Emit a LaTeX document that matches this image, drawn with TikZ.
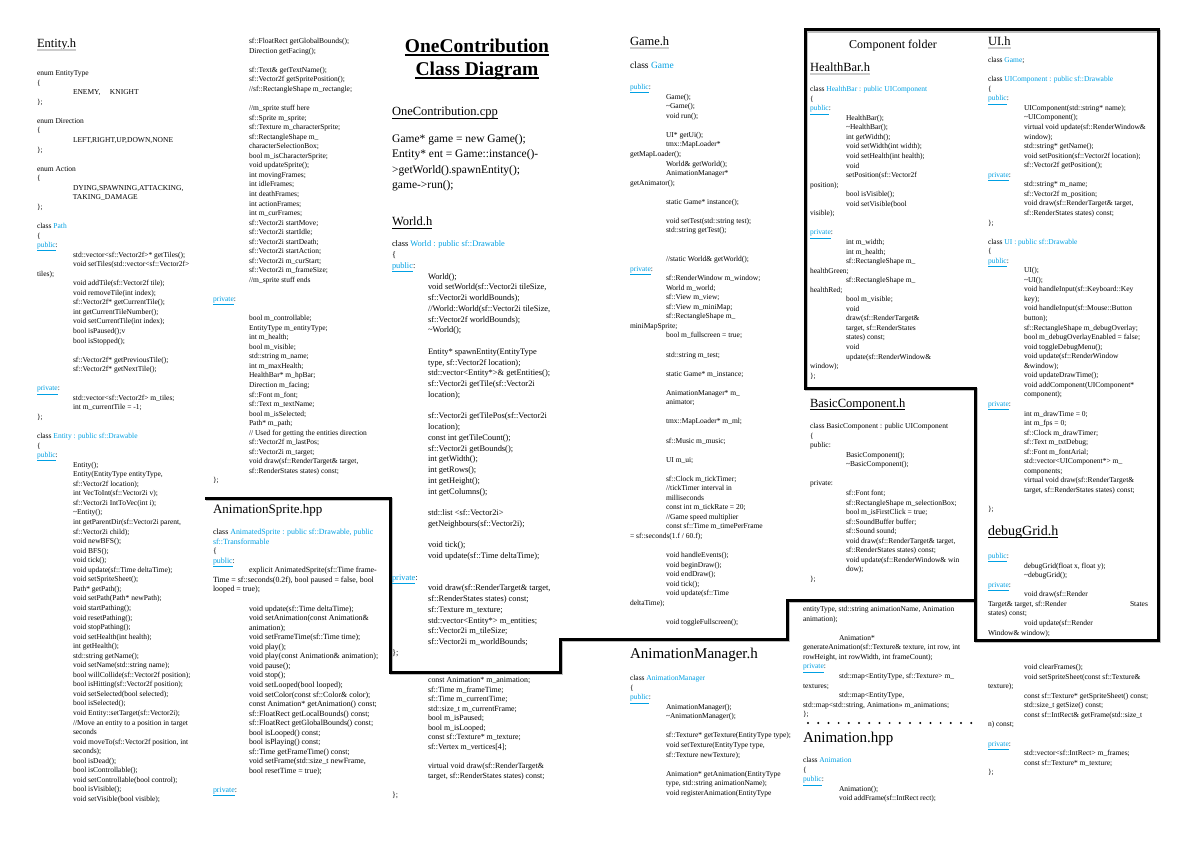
\documentclass[tikz,border=0pt]{standalone}
\usepackage{fontspec}
\setmainfont{Liberation Serif}
\usepackage{xcolor}
\definecolor{cppblue}{RGB}{0,160,227}
\newcommand\tb{\hspace*{36pt}}
\newcommand\cb[1]{\textcolor{cppblue}{#1}}
\newcommand\pub{{\color{cppblue}\underline{public}}:}
\newcommand\pri{{\color{cppblue}\underline{private}}:}
\newcommand\tldd{\textasciitilde}
\begin{document}
\begin{tikzpicture}[x=1pt,y=-1pt,
 code/.style={anchor=north west, inner sep=0pt, outer sep=0pt, align=left, font=\fontsize{7.5}{9.55}\selectfont},
 codeB/.style={code, font=\fontsize{7.9}{9.55}\selectfont},
 codeW/.style={code, font=\fontsize{8.4}{10.75}\selectfont},
 head/.style={anchor=base west, inner sep=0pt, outer sep=0pt, text depth=0pt, font=\fontsize{12.5}{14}\selectfont},
 headL/.style={head, font=\fontsize{15}{17}\selectfont},
 grayul/.style={gray!40, line width=2pt},
 blackul/.style={black, line width=0.7pt},
 frame/.style={black, line width=3pt, line join=miter},
 shade/.style={gray!50, line width=3pt, line join=miter}
]
\useasboundingbox (0,0) rectangle (1191,842);
\fill[white] (0,0) rectangle (1191,842);

% ---------- frames ----------
\begin{scope}[shift={(1.2,1.2)}]
\draw[shade] (805,30) -- (1158,30) -- (1158,640) -- (975,640) -- (975,388) -- (805,388) -- cycle;
\draw[shade] (205,498) -- (390,498) -- (390,672) -- (560,672) -- (560,639) -- (787,639) -- (787,600) -- (975,600);
\end{scope}
\draw[frame] (805,30) -- (1158,30) -- (1158,640) -- (975,640) -- (975,388) -- (805,388) -- cycle;
\draw[frame] (205,498) -- (390,498) -- (390,672) -- (560,672) -- (560,639) -- (787,639) -- (787,600) -- (975,600);

% ---------- column 1 ----------
\node[head] (hEntity) at (37,48) {Entity.h};
\draw[grayul] ([yshift=-2pt]hEntity.base west) -- ([yshift=-2pt]hEntity.base east);
\node[code] (c1) at (37,69) {\strut enum EntityType\\
\{\\
\tb ENEMY,\quad\ KNIGHT\\
\};\\
~\\
enum Direction\\
\{\\
\tb LEFT,RIGHT,UP,DOWN,NONE\\
\};\\
~\\
enum Action\\
\{\\
\tb DYING,SPAWNING,ATTACKING,\\
\tb TAKING\_DAMAGE\\
\};\\
~\\
class \cb{Path}\\
\{\\
\pub\\
\tb std::vector<sf::Vector2f>* getTiles();\\
\tb void setTiles(std::vector<sf::Vector2f>\\
tiles);\\
\tb void addTile(sf::Vector2f tile);\\
\tb void removeTile(int index);\\
\tb sf::Vector2f* getCurrentTile();\\
\tb int getCurrentTileNumber();\\
\tb void setCurrentTile(int index);\\
\tb bool isPaused();v\\
\tb bool isStopped();\\
~\\
\tb sf::Vector2f* getPreviousTile();\\
\tb sf::Vector2f* getNextTile();\\
~\\
\pri\\
\tb std::vector<sf::Vector2f> m\_tiles;\\
\tb int m\_currentTile = -1;\\
\};\\
~\\
class \cb{Entity : public sf::Drawable}\\
\{\\
\pub\\
\tb Entity();\\
\tb Entity(EntityType entityType,\\
\tb sf::Vector2f location);\\
\tb int VecToInt(sf::Vector2i v);\\
\tb sf::Vector2i IntToVec(int i);\\
\tb \tldd Entity();\\
\tb int getParentDir(sf::Vector2i parent,\\
\tb sf::Vector2i child);\\
\tb void newBFS();\\
\tb void BFS();\\
\tb void tick();\\
\tb void update(sf::Time deltaTime);\\
\tb void setSpriteSheet();\\
\tb Path* getPath();\\
\tb void setPath(Path* newPath);\\
\tb void startPathing();\\
\tb void resetPathing();\\
\tb void stopPathing();\\
\tb void setHealth(int health);\\
\tb int getHealth();\\
\tb std::string getName();\\
\tb void setName(std::string name);\\
\tb bool willCollide(sf::Vector2f position);\\
\tb bool isHitting(sf::Vector2f position);\\
\tb void setSelected(bool selected);\\
\tb bool isSelected();\\
\tb void Entity::setTarget(sf::Vector2i);\\
\tb //Move an entity to a position in target\\
\tb seconds\\
\tb void moveTo(sf::Vector2f position, int\\
\tb seconds);\\
\tb bool isDead();\\
\tb bool isControllable();\\
\tb void setControllable(bool control);\\
\tb bool isVisible();\\
\tb void setVisible(bool visible);};

% ---------- column 2 ----------
\node[code] (c2a) at (213,37) {\strut\tb sf::FloatRect getGlobalBounds();\\
\tb Direction getFacing();\\
~\\
\tb sf::Text\& getTextName();\\
\tb sf::Vector2f getSpritePosition();\\
\tb //sf::RectangleShape m\_rectangle;\\
~\\
\tb //m\_sprite stuff here\\
\tb sf::Sprite m\_sprite;\\
\tb sf::Texture m\_characterSprite;\\
\tb sf::RectangleShape m\_\\
\tb characterSelectionBox;\\
\tb bool m\_isCharacterSprite;\\
\tb void updateSprite();\\
\tb int movingFrames;\\
\tb int idleFrames;\\
\tb int deathFrames;\\
\tb int actionFrames;\\
\tb int m\_curFrames;\\
\tb sf::Vector2i startMove;\\
\tb sf::Vector2i startIdle;\\
\tb sf::Vector2i startDeath;\\
\tb sf::Vector2i startAction;\\
\tb sf::Vector2i m\_curStart;\\
\tb sf::Vector2i m\_frameSize;\\
\tb //m\_sprite stuff ends\\
~\\
\pri\\
~\\
\tb bool m\_controllable;\\
\tb EntityType m\_entityType;\\
\tb int m\_health;\\
\tb bool m\_visible;\\
\tb std::string m\_name;\\
\tb int m\_maxHealth;\\
\tb HealthBar* m\_hpBar;\\
\tb Direction m\_facing;\\
\tb sf::Font m\_font;\\
\tb sf::Text m\_textName;\\
\tb bool m\_isSelected;\\
\tb Path* m\_path;\\
\tb // Used for getting the entities direction\\
\tb sf::Vector2f m\_lastPos;\\
\tb sf::Vector2i m\_target;\\
\tb void draw(sf::RenderTarget\& target,\\
\tb sf::RenderStates states) const;\\
\};};

\node[head, font=\fontsize{13}{15}\selectfont] (hASprite) at (213,513) {AnimationSprite.hpp};
\node[codeB] (c2b) at (213,528) {\strut class \cb{AnimatedSprite : public sf::Drawable, public}\\
\cb{sf::Transformable}\\
\{\\
\pub\\
\tb explicit AnimatedSprite(sf::Time frame-\\
Time = sf::seconds(0.2f), bool paused = false, bool\\
looped = true);\\
~\\
\tb void update(sf::Time deltaTime);\\
\tb void setAnimation(const Animation\&\\
\tb animation);\\
\tb void setFrameTime(sf::Time time);\\
\tb void play();\\
\tb void play(const Animation\& animation);\\
\tb void pause();\\
\tb void stop();\\
\tb void setLooped(bool looped);\\
\tb void setColor(const sf::Color\& color);\\
\tb const Animation* getAnimation() const;\\
\tb sf::FloatRect getLocalBounds() const;\\
\tb sf::FloatRect getGlobalBounds() const;\\
\tb bool isLooped() const;\\
\tb bool isPlaying() const;\\
\tb sf::Time getFrameTime() const;\\
\tb void setFrame(std::size\_t newFrame,\\
\tb bool resetTime = true);\\
~\\
\pri};

% ---------- column 3 ----------
\node[anchor=base, inner sep=0pt, text depth=0pt, font=\fontsize{19.5}{23}\selectfont\bfseries] (t1) at (477,52.5) {OneContribution };
\node[anchor=base, inner sep=0pt, text depth=0pt, font=\fontsize{19.5}{23}\selectfont\bfseries] (t2) at (477,75.5) {Class Diagram};
\draw[line width=1.3pt] ([yshift=-2.6pt]t1.base west) -- ([yshift=-2.6pt]t1.base east);
\draw[line width=1.3pt] ([yshift=-2.6pt]t2.base west) -- ([yshift=-2.6pt]t2.base east);

\node[head] (hCpp) at (392,116) {OneContribution.cpp};
\draw[blackul] ([yshift=-2pt]hCpp.base west) -- ([yshift=-2pt]hCpp.base east);
\node[anchor=north west, inner sep=0pt, align=left, font=\fontsize{11.5}{15.5}\selectfont] (cpp) at (392,131) {\strut Game* game = new Game();\\
Entity* ent = Game::instance()-\\
>getWorld().spawnEntity();\\
game->run();};

\node[head] (hWorld) at (392,226) {World.h};
\draw[blackul] ([yshift=-2pt]hWorld.base west) -- ([yshift=-2pt]hWorld.base east);
\node[codeW] (c3w) at (392,239.4) {\strut class \cb{World : public sf::Drawable}\\
\{\\
\pub\\
\tb World();\\
\tb void setWorld(sf::Vector2i tileSize,\\
\tb sf::Vector2i worldBounds);\\
\tb //World::World(sf::Vector2i tileSize,\\
\tb sf::Vector2f worldBounds);\\
\tb \tldd World();\\
~\\
\tb Entity* spawnEntity(EntityType\\
\tb type, sf::Vector2f location);\\
\tb std::vector<Entity*>\& getEntities();\\
\tb sf::Vector2i getTile(sf::Vector2i\\
\tb location);\\
~\\
\tb sf::Vector2i getTilePos(sf::Vector2i\\
\tb location);\\
\tb const int getTileCount();\\
\tb sf::Vector2i getBounds();\\
\tb int getWidth();\\
\tb int getRows();\\
\tb int getHeight();\\
\tb int getColumns();\\
~\\
\tb std::list <sf::Vector2i>\\
\tb getNeighbours(sf::Vector2i);\\
~\\
\tb void tick();\\
\tb void update(sf::Time deltaTime);\\
~\\
\pri\\
\tb void draw(sf::RenderTarget\& target,\\
\tb sf::RenderStates states) const;\\
\tb sf::Texture m\_texture;\\
\tb std::vector<Entity*> m\_entities;\\
\tb sf::Vector2i m\_tileSize;\\
\tb sf::Vector2i m\_worldBounds;\\
\};};

\node[codeB] (c3b) at (392,676) {\strut\tb const Animation* m\_animation;\\
\tb sf::Time m\_frameTime;\\
\tb sf::Time m\_currentTime;\\
\tb std::size\_t m\_currentFrame;\\
\tb bool m\_isPaused;\\
\tb bool m\_isLooped;\\
\tb const sf::Texture* m\_texture;\\
\tb sf::Vertex m\_vertices[4];\\
~\\
\tb virtual void draw(sf::RenderTarget\&\\
\tb target, sf::RenderStates states) const;\\
~\\
\};};

% ---------- column 4 ----------
\node[head] (hGame) at (630,46) {Game.h};
\draw[grayul] ([yshift=-2pt]hGame.base west) -- ([yshift=-2pt]hGame.base east);
\node[anchor=base west, inner sep=0pt, font=\fontsize{9.5}{11}\selectfont] (clsGame) at (630,68.5) {class \cb{Game}};
\node[code] (c4a) at (630,83) {\strut\pub\\
\tb Game();\\
\tb \tldd Game();\\
\tb void run();\\
~\\
\tb UI* getUi();\\
\tb tmx::MapLoader*\\
getMapLoader();\\
\tb World\& getWorld();\\
\tb AnimationManager*\\
getAnimator();\\
~\\
\tb static Game* instance();\\
~\\
\tb void setTest(std::string test);\\
\tb std::string getTest();\\
~\\
~\\
\tb //static World\& getWorld();\\
\pri\\
\tb sf::RenderWindow m\_window;\\
\tb World m\_world;\\
\tb sf::View m\_view;\\
\tb sf::View m\_miniMap;\\
\tb sf::RectangleShape m\_\\
miniMapSprite;\\
\tb bool m\_fullscreen = true;\\
~\\
\tb std::string m\_test;\\
~\\
\tb static Game* m\_instance;\\
~\\
\tb AnimationManager* m\_\\
\tb animator;\\
~\\
\tb tmx::MapLoader* m\_ml;\\
~\\
\tb sf::Music m\_music;\\
~\\
\tb UI m\_ui;\\
~\\
\tb sf::Clock m\_tickTimer;\\
\tb //tickTimer interval in\\
\tb milliseconds\\
\tb const int m\_tickRate = 20;\\
\tb //Game speed multiplier\\
\tb const sf::Time m\_timePerFrame\\
= sf::seconds(1.f / 60.f);\\
~\\
\tb void handleEvents();\\
\tb void beginDraw();\\
\tb void endDraw();\\
\tb void tick();\\
\tb void update(sf::Time\\
deltaTime);\\
~\\
\tb void toggleFullscreen();};

\node[headL] (hAMan) at (630,658) {AnimationManager.h};
\node[code] (c4b) at (630,674) {\strut class \cb{AnimationManager}\\
\{\\
\pub\\
\tb AnimationManager();\\
\tb \tldd AnimationManager();\\
~\\
\tb sf::Texture* getTexture(EntityType type);\\
\tb void setTexture(EntityType type,\\
\tb sf::Texture newTexture);\\
~\\
\tb Animation* getAnimation(EntityType\\
\tb type, std::string animationName);\\
\tb void registerAnimation(EntityType};

% ---------- column 5 ----------
\node[anchor=base, inner sep=0pt, font=\fontsize{12}{14}\selectfont] (hComp) at (893,49) {Component folder};
\node[head] (hHealth) at (810,72) {HealthBar.h};
\draw[grayul] ([yshift=-2pt]hHealth.base west) -- ([yshift=-2pt]hHealth.base east);
\node[code] (c5a) at (810,85) {\strut class \cb{HealthBar : public UIComponent}\\
\{\\
\pub\\
\tb HealthBar();\\
\tb \tldd HealthBar();\\
\tb int getWidth();\\
\tb void setWidth(int width);\\
\tb void setHealth(int health);\\
\tb void\\
\tb setPosition(sf::Vector2f\\
position);\\
\tb bool isVisible();\\
\tb void setVisible(bool\\
visible);\\
~\\
\pri\\
\tb int m\_width;\\
\tb int m\_health;\\
\tb sf::RectangleShape m\_\\
healthGreen;\\
\tb sf::RectangleShape m\_\\
healthRed;\\
\tb bool m\_visible;\\
\tb void\\
\tb draw(sf::RenderTarget\&\\
\tb target, sf::RenderStates\\
\tb states) const;\\
\tb void\\
\tb update(sf::RenderWindow\&\\
window);\\
\};};

\node[head] (hBasic) at (810,407) {BasicComponent.h};
\draw[blackul] ([yshift=-2pt]hBasic.base west) -- ([yshift=-2pt]hBasic.base east);
\node[code] (c5d) at (810,422) {\strut class BasicComponent : public UIComponent\\
\{\\
public:\\
\tb BasicComponent();\\
\tb \tldd BasicComponent();\\
~\\
private:\\
\tb sf::Font font;\\
\tb sf::RectangleShape m\_selectionBox;\\
\tb bool m\_isFirstClick = true;\\
\tb sf::SoundBuffer buffer;\\
\tb sf::Sound sound;\\
\tb void draw(sf::RenderTarget\& target,\\
\tb sf::RenderStates states) const;\\
\tb void update(sf::RenderWindow\& win\\
\tb dow);\\
\};};

\node[code] (c5b) at (803,605) {\strut entityType, std::string animationName, Animation\\
animation);\\
~\\
\tb Animation*\\
generateAnimation(sf::Texture\& texture, int row, int\\
rowHeight, int rowWidth, int frameCount);\\
\pri\\
\tb std::map<EntityType, sf::Texture> m\_\\
textures;\\
\tb std::map<EntityType,\\
std::map<std::string, Animation>> m\_animations;\\
\};};

\coordinate (dotA) at (808,723);
\coordinate (dotB) at (975,723);
\draw[line width=2.2pt, line cap=round, dash pattern=on 0pt off 10.2pt] (dotA) -- (dotB);

\node[headL] (hAnim) at (803,742) {Animation.hpp};
\node[code] (c5c) at (803,756) {\strut class \cb{Animation}\\
\{\\
\pub\\
\tb Animation();\\
\tb void addFrame(sf::IntRect rect);};

% ---------- column 6 ----------
\node[head] (hUI) at (988,46) {UI.h};
\draw[grayul] ([yshift=-2pt]hUI.base west) -- ([yshift=-2pt]hUI.base east);
\node[code] (c6a) at (988,56) {\strut class \cb{Game};\\
~\\
class \cb{UIComponent : public sf::Drawable}\\
\{\\
\pub\\
\tb UIComponent(std::string* name);\\
\tb \tldd UIComponent();\\
\tb virtual void update(sf::RenderWindow\&\\
\tb window);\\
\tb std::string* getName();\\
\tb void setPosition(sf::Vector2f location);\\
\tb sf::Vector2f getPosition();\\
\pri\\
\tb std::string* m\_name;\\
\tb sf::Vector2f m\_position;\\
\tb void draw(sf::RenderTarget\& target,\\
\tb sf::RenderStates states) const;\\
\};\\
~\\
class \cb{UI : public sf::Drawable}\\
\{\\
\pub\\
\tb UI();\\
\tb \tldd UI();\\
\tb void handleInput(sf::Keyboard::Key\\
\tb key);\\
\tb void handleInput(sf::Mouse::Button\\
\tb button);\\
\tb sf::RectangleShape m\_debugOverlay;\\
\tb bool m\_debugOverlayEnabled = false;\\
\tb void toggleDebugMenu();\\
\tb void update(sf::RenderWindow\\
\tb \&window);\\
\tb void updateDrawTime();\\
\tb void addComponent(UIComponent*\\
\tb component);\\
\pri\\
\tb int m\_drawTime = 0;\\
\tb int m\_fps = 0;\\
\tb sf::Clock m\_drawTimer;\\
\tb sf::Text m\_txtDebug;\\
\tb sf::Font m\_fontArial;\\
\tb std::vector<UIComponent*> m\_\\
\tb components;\\
\tb virtual void draw(sf::RenderTarget\&\\
\tb target, sf::RenderStates states) const;\\
~\\
\};};

\node[head, font=\fontsize{14}{16}\selectfont] (hGrid) at (988,535) {debugGrid.h};
\draw[blackul] ([yshift=-2pt]hGrid.base west) -- ([yshift=-2pt]hGrid.base east);
\node[code] (c6b) at (988,552) {\strut\pub\\
\tb debugGrid(float x, float y);\\
\tb \tldd debugGrid();\\
\pri\\
\tb void draw(sf::Render\\
\makebox[142pt][l]{Target\& target, sf::Render}States\\
states) const;\\
\tb void update(sf::Render\\
Window\& window);};

\node[code] (c6c) at (988,663) {\strut\tb void clearFrames();\\
\tb void setSpriteSheet(const sf::Texture\&\\
texture);\\
\tb const sf::Texture* getSpriteSheet() const;\\
\tb std::size\_t getSize() const;\\
\tb const sf::IntRect\& getFrame(std::size\_t\\
n) const;\\
~\\
\pri\\
\tb std::vector<sf::IntRect> m\_frames;\\
\tb const sf::Texture* m\_texture;\\
\};};
\end{tikzpicture}
\end{document}
